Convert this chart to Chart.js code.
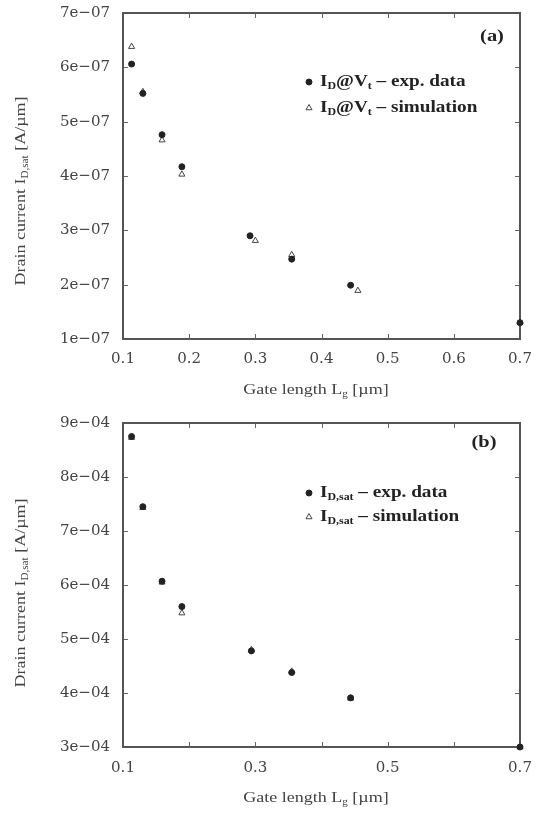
<!DOCTYPE html>
<html>
<head>
<meta charset="utf-8">
<script src="https://cdn.jsdelivr.net/npm/chart.js@4.4.1/dist/chart.umd.min.js"></script>
<style>
    body { margin: 0; background: #fff; }
    #wrap { position: relative; width: 537px; height: 814px; }
    canvas { position: absolute; left: 0; }
    #chartA { top: 0; }
    #chartB { top: 400px; }
</style>
</head>
<body>
<div id="wrap">
    <canvas id="chartA" width="537" height="400"></canvas>
    <canvas id="chartB" width="537" height="414"></canvas>
</div>
<script>
// (a) drain current at threshold, gate length in um
const gateLenExpA = [0.113, 0.13, 0.159, 0.189, 0.292, 0.355, 0.444, 0.7];
const gateLenSimA = [0.113, 0.13, 0.159, 0.189, 0.30, 0.355, 0.455, 0.7];
const idVtExp = [6.06e-7, 5.52e-7, 4.76e-7, 4.17e-7, 2.90e-7, 2.47e-7, 1.99e-7, 1.30e-7];
const idVtSim = [6.38e-7, 5.55e-7, 4.66e-7, 4.03e-7, 2.81e-7, 2.55e-7, 1.89e-7, 1.31e-7];

// (b) saturation drain current
const gateLenExpB = [0.113, 0.13, 0.159, 0.189, 0.294, 0.355, 0.444, 0.7];
const gateLenSimB = [0.113, 0.13, 0.159, 0.189, 0.294, 0.355, 0.444, 0.7];
const idSatExp = [8.75e-4, 7.45e-4, 6.07e-4, 5.60e-4, 4.78e-4, 4.38e-4, 3.91e-4, 3.0e-4];
const idSatSim = [8.73e-4, 7.43e-4, 6.05e-4, 5.48e-4, 4.80e-4, 4.40e-4, 3.90e-4, 3.0e-4];

const xTickVals = [0.1, 0.2, 0.3, 0.4, 0.5, 0.6, 0.7];
const xTickLabelsA = ['0.1', '0.2', '0.3', '0.4', '0.5', '0.6', '0.7'];
const xTickLabelsB = ['0.1', '', '0.3', '', '0.5', '', '0.7'];
const yTickValsA = [1e-7, 2e-7, 3e-7, 4e-7, 5e-7, 6e-7, 7e-7];
const yTickLabelsA = ['1e\u221207', '2e\u221207', '3e\u221207', '4e\u221207', '5e\u221207', '6e\u221207', '7e\u221207'];
const yTickValsB = [3e-4, 4e-4, 5e-4, 6e-4, 7e-4, 8e-4, 9e-4];
const yTickLabelsB = ['3e\u221204', '4e\u221204', '5e\u221204', '6e\u221204', '7e\u221204', '8e\u221204', '9e\u221204'];

const xTitle = [{ t: 'Gate length L' }, { t: 'g', sub: true }, { t: ' [\u00b5m]' }];
const yTitle = [{ t: 'Drain current I' }, { t: 'D,sat', sub: true }, { t: ' [A/\u00b5m]' }];
const legendA = [
    [{ t: 'I' }, { t: 'D', sub: true }, { t: '@V' }, { t: 't', sub: true }, { t: ' \u2013 exp. data' }],
    [{ t: 'I' }, { t: 'D', sub: true }, { t: '@V' }, { t: 't', sub: true }, { t: ' \u2013 simulation' }]
];
const legendB = [
    [{ t: 'I' }, { t: 'D,sat', sub: true }, { t: ' \u2013 exp. data' }],
    [{ t: 'I' }, { t: 'D,sat', sub: true }, { t: ' \u2013 simulation' }]
];

const SERIF = '"Liberation Serif", "DejaVu Serif", serif';
const STRETCH = 1.2;

function drawRich(ctx, parts, x, y, size, bold, align) {
    const font = (s) => (bold ? 'bold ' : '') + s + 'px ' + SERIF;
    let w = 0;
    parts.forEach(p => {
        ctx.font = font(p.sub ? size * 0.62 : size);
        w += ctx.measureText(p.t).width;
    });
    ctx.save();
    ctx.translate(x, y);
    ctx.scale(STRETCH, 1);
    ctx.textBaseline = 'middle';
    ctx.textAlign = 'left';
    let cx = align === 'center' ? -w / 2 : 0;
    parts.forEach(p => {
        ctx.font = font(p.sub ? size * 0.62 : size);
        ctx.fillText(p.t, cx, p.sub ? size * 0.3 : 0);
        cx += ctx.measureText(p.t).width;
    });
    ctx.restore();
}

// frame with inward ticks on all four sides
const framePlugin = {
    id: 'frame',
    beforeDatasetsDraw(chart) {
        const { ctx, chartArea: a, scales: { x, y } } = chart;
        ctx.save();
        ctx.strokeStyle = '#666';
        ctx.lineWidth = 1;
        ctx.beginPath();
        x.ticks.forEach(t => {
            const px = Math.round(x.getPixelForValue(t.value)) + 0.5;
            ctx.moveTo(px, a.bottom); ctx.lineTo(px, a.bottom - 5);
            ctx.moveTo(px, a.top); ctx.lineTo(px, a.top + 5);
        });
        y.ticks.forEach(t => {
            const py = Math.round(y.getPixelForValue(t.value)) + 0.5;
            ctx.moveTo(a.left, py); ctx.lineTo(a.left + 5, py);
            ctx.moveTo(a.right, py); ctx.lineTo(a.right - 5, py);
        });
        ctx.stroke();
        ctx.lineWidth = 2;
        ctx.strokeStyle = '#555';
        ctx.strokeRect(a.left, a.top, a.right - a.left, a.bottom - a.top);
        ctx.restore();
    },
    afterDraw(chart, args, opts) {
        const { ctx } = chart;
        ctx.save();
        ctx.fillStyle = '#444';
        drawRich(ctx, xTitle, 316, opts.xTitleY, 15, false, 'center');
        ctx.save();
        ctx.translate(21, opts.yTitleY);
        ctx.rotate(-Math.PI / 2);
        drawRich(ctx, yTitle, 0, 0, 15, false, 'center');
        ctx.restore();

        ctx.fillStyle = '#222';
        drawRich(ctx, [{ t: opts.panel }], opts.panelX, opts.panelY, 17, true, 'center');

        opts.legend.forEach((row, i) => {
            const ds = chart.data.datasets[i];
            const ly = opts.legendY[i];
            ctx.fillStyle = ds.backgroundColor;
            ctx.strokeStyle = ds.borderColor;
            ctx.lineWidth = ds.borderWidth;
            Chart.helpers.drawPoint(ctx, {
                pointStyle: ds.pointStyle,
                radius: ds.pointRadius,
                borderWidth: ds.borderWidth,
                rotation: 0
            }, 309, ly);
            ctx.fillStyle = '#222';
            drawRich(ctx, row, 320, ly, 16, true, 'left');
        });
        ctx.restore();
    }
};

function points(xs, ys) {
    return xs.map((v, i) => ({ x: v, y: ys[i] }));
}

function makeChart(id, expData, simData, yVals, yLabels, xLabels, padTop, xHeight, xPad, extra) {
    const ctx = document.getElementById(id).getContext('2d');
    return new Chart(ctx, {
        type: 'scatter',
        data: {
            datasets: [{
                label: 'exp. data',
                data: expData,
                pointStyle: 'circle',
                pointRadius: 3,
                borderWidth: 1,
                backgroundColor: '#222',
                borderColor: '#222',
                clip: false
            }, {
                label: 'simulation',
                data: simData,
                pointStyle: 'triangle',
                pointRadius: 3.5,
                borderWidth: 1,
                backgroundColor: 'rgba(255,255,255,0)',
                borderColor: '#444',
                clip: false
            }]
        },
        options: {
            responsive: false,
            animation: false,
            layout: { padding: { top: padTop, right: 17, left: 0, bottom: 0 } },
            scales: {
                x: {
                    type: 'linear',
                    min: 0.1,
                    max: 0.7,
                    afterBuildTicks: axis => { axis.ticks = xTickVals.map(v => ({ value: v })); },
                    afterFit: axis => {
                        axis.height = xHeight;
                        axis.paddingLeft = 0;
                        axis.paddingRight = 0;
                    },
                    grid: { display: false, drawTicks: false },
                    border: { display: false },
                    ticks: {
                        autoSkip: false,
                        maxRotation: 0,
                        padding: xPad,
                        color: '#444',
                        font: { family: '"DejaVu Serif", serif', size: 15 },
                        callback: (v, i) => xLabels[i]
                    }
                },
                y: {
                    type: 'linear',
                    min: yVals[0],
                    max: yVals[yVals.length - 1],
                    afterBuildTicks: axis => { axis.ticks = yVals.map(v => ({ value: v })); },
                    afterFit: axis => {
                        axis.width = 123;
                        axis.paddingTop = 0;
                        axis.paddingBottom = 0;
                    },
                    grid: { display: false, drawTicks: false },
                    border: { display: false },
                    ticks: {
                        autoSkip: false,
                        padding: 13,
                        color: '#444',
                        font: { family: '"DejaVu Serif", serif', size: 15 },
                        callback: (v, i) => yLabels[i]
                    }
                }
            },
            plugins: {
                legend: { display: false },
                tooltip: { enabled: false },
                frame: extra
            }
        },
        plugins: [framePlugin]
    });
}

makeChart('chartA', points(gateLenExpA, idVtExp), points(gateLenSimA, idVtSim),
    yTickValsA, yTickLabelsA, xTickLabelsA, 13, 61, 11,
    { xTitleY: 390, yTitleY: 191, panel: '(a)', panelX: 492, panelY: 37, legend: legendA, legendY: [82, 108] });

makeChart('chartB', points(gateLenExpB, idSatExp), points(gateLenSimB, idSatSim),
    yTickValsB, yTickLabelsB, xTickLabelsB, 23, 67, 12,
    { xTitleY: 398, yTitleY: 193, panel: '(b)', panelX: 484, panelY: 43, legend: legendB, legendY: [93, 117] });
</script>
</body>
</html>
